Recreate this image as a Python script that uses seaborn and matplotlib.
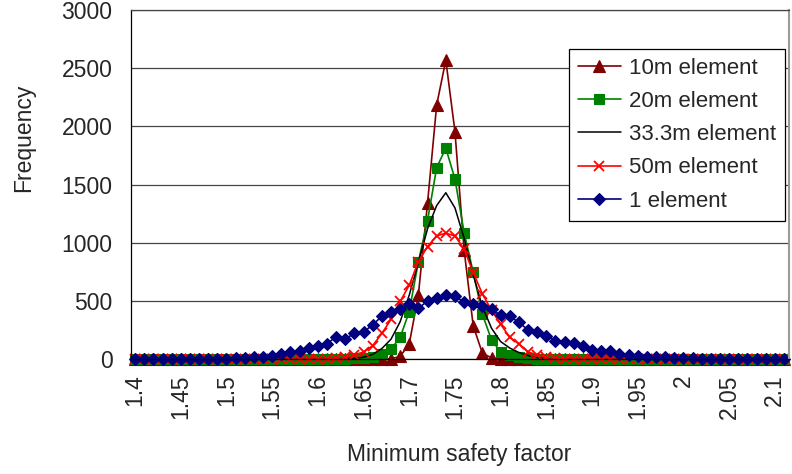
import numpy as np
import pandas as pd
import matplotlib
matplotlib.use("Agg")
import matplotlib.pyplot as plt
import seaborn as sns

# ---- data ----
safety_factor = [round(1.40 + 0.01 * k, 2) for k in range(72)]  # categories 1.40 .. 2.11
xtick_labels = ["1.4", "1.45", "1.5", "1.55", "1.6", "1.65", "1.7", "1.75",
                "1.8", "1.85", "1.9", "1.95", "2", "2.05", "2.1"]

elem_10m = ([0] * 28 +
            [2, 22, 130, 552, 1340, 2185, 2570, 1956, 940, 285, 50, 10] +
            [0] * 32)
elem_20m = ([0] * 24 +
            [5, 8, 16, 45, 85, 185, 408, 838, 1191, 1647, 1813, 1549, 1088,
             745, 385, 165, 60, 32, 16, 5, 3] +
            [0] * 27)
elem_333m = ([0] * 23 +
             [3, 8, 15, 40, 90, 170, 320, 550, 830, 1120, 1320, 1430, 1300,
              1040, 724, 451, 265, 150, 94, 56, 30, 12, 5, 2] +
             [0] * 25)
elem_50m = ([0] * 22 +
            [5, 16, 36, 60, 115, 220, 340, 495, 635, 838, 967, 1059, 1082,
             1059, 945, 744, 560, 420, 300, 185, 130, 60, 36, 16, 5] +
            [0] * 25)
elem_1 = ([0] * 10 +
          [3, 5, 10] +
          [16, 18, 28, 45, 56, 73, 94, 110, 131, 192, 171, 222, 232, 294,
           368, 405, 430, 472, 435, 500, 528, 552, 540, 490, 474, 457, 430,
           375, 368, 314, 251, 228, 199, 159, 150, 137, 113, 79, 73, 65, 45,
           36, 28, 21, 16, 16, 10, 8, 5, 3] +
          [0] * 9)

series_names = ["10m element", "20m element", "33.3m element", "50m element", "1 element"]
series_values = [elem_10m, elem_20m, elem_333m, elem_50m, elem_1]

# ---- styling ----
sns.set_style("white")
plt.rcParams["font.family"] = ["Liberation Sans", "DejaVu Sans"]

styles = {
    "10m element":   dict(color="#800000", marker="^", markersize=9.0, lw=1.2),
    "20m element":   dict(color="#008000", marker="s", markersize=6.5, lw=1.2),
    "33.3m element": dict(color="#000000", marker=None, markersize=0, lw=1.1),
    "50m element":   dict(color="#FF0000", marker="x", markersize=7.5, lw=1.2),
    "1 element":     dict(color="#000080", marker="D", markersize=6.0, lw=1.2),
}

fig = plt.figure(figsize=(7.92, 4.74), dpi=100)
ax = fig.add_axes([0.1648, 0.2426, 0.8308, 0.7359])

for name, vals in zip(series_names, series_values):
    df = pd.DataFrame({"x": safety_factor, "y": vals})
    st = styles[name]
    kw = dict(color=st["color"], linewidth=st["lw"], label=name, clip_on=False)
    if st["marker"] is not None:
        kw.update(marker=st["marker"], markersize=st["markersize"],
                  markeredgecolor=st["color"], markerfacecolor=st["color"],
                  markeredgewidth=1.3 if st["marker"] == "x" else 0.8)
    sns.lineplot(data=df, x="x", y="y", ax=ax, **kw)

ax.set_xlim(1.395, 2.115)
ax.set_ylim(0, 3000)

# x ticks: labels at every 0.05, small inward tick marks between categories
major_pos = [float(t) for t in xtick_labels]
ax.set_xticks(major_pos)
ax.set_xticklabels(xtick_labels, rotation=90, fontsize=16.5)
ax.set_xticks([1.395 + 0.01 * k for k in range(73)], minor=True)
ax.tick_params(axis="x", which="major", length=0, pad=11)
ax.tick_params(axis="x", which="minor", direction="in", length=6,
               width=0.8, color="#333333")

ax.set_yticks([0, 500, 1000, 1500, 2000, 2500, 3000])
ax.set_yticklabels(["0", "500", "1000", "1500", "2000", "2500", "3000"], fontsize=16.5)
ax.tick_params(axis="y", length=0, pad=13)

ax.yaxis.grid(True, color="#444444", linewidth=0.9)
ax.xaxis.grid(False)
ax.set_axisbelow(True)

for s in ["left", "bottom"]:
    ax.spines[s].set_color("black")
    ax.spines[s].set_linewidth(0.9)
ax.spines["top"].set_color("#444444")
ax.spines["top"].set_linewidth(0.9)
ax.spines["right"].set_color("#9a9a9a")
ax.spines["right"].set_linewidth(1.5)

ax.set_xlabel("Minimum safety factor", fontsize=16.5)
ax.xaxis.set_label_coords(0.5, -0.275)
ax.xaxis.label.set_va("center")
ax.set_ylabel("Frequency", fontsize=16.5)
ax.yaxis.set_label_coords(-0.163, 0.634)
ax.yaxis.label.set_va("center")

leg = ax.legend(loc="upper left", bbox_to_anchor=(0.666, 0.889),
                fontsize=16, frameon=True, fancybox=False, framealpha=1,
                edgecolor="black", borderpad=0.4, labelspacing=0.55,
                handlelength=1.95, handletextpad=0.36, borderaxespad=0,
                numpoints=1)
leg.get_frame().set_linewidth(0.9)

fig.savefig("out.png", dpi=100)
